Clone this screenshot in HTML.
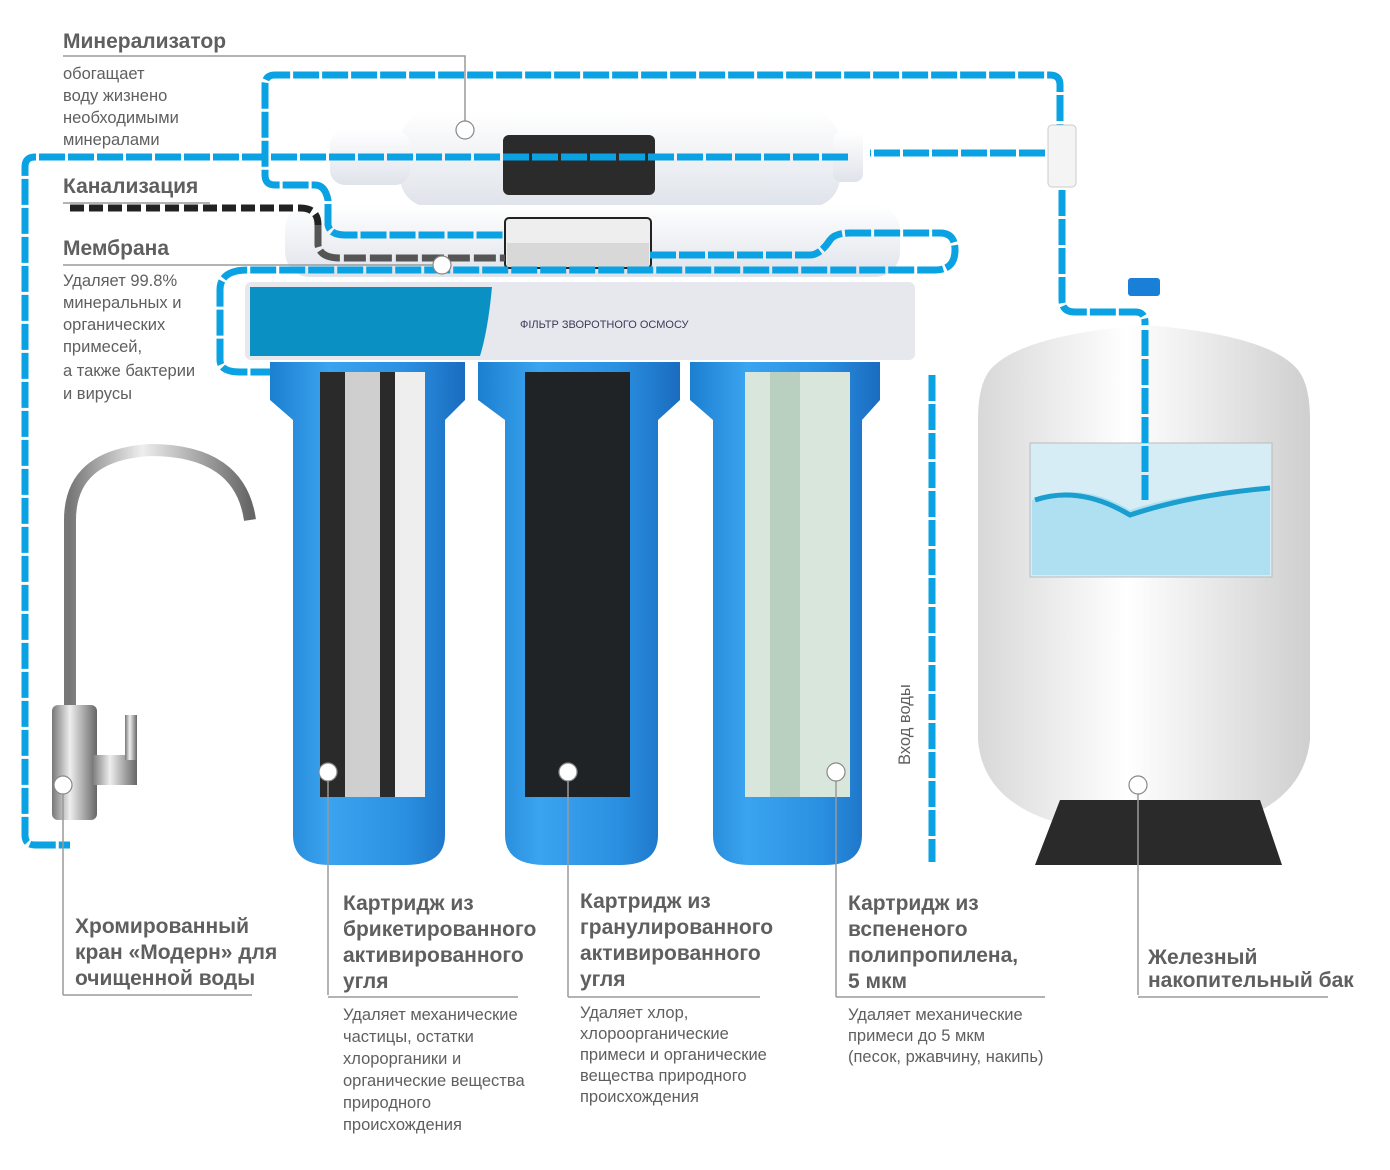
<!DOCTYPE html>
<html><head><meta charset="utf-8"><style>
body{margin:0;background:#fff}
svg{display:block}
text{font-family:"Liberation Sans",sans-serif}
.h{font-weight:bold;fill:#5f5f5f;font-size:21px}
.t{fill:#5f5f5f;font-size:16.5px}
.p{fill:none;stroke:#0aa2e2;stroke-width:7;stroke-dasharray:26 3}
.l{fill:none;stroke:#9a9a9a;stroke-width:1.5}
.dot{fill:#fff;stroke:#888;stroke-width:1.2}
</style></head><body>
<svg width="1390" height="1170" viewBox="0 0 1390 1170" xmlns="http://www.w3.org/2000/svg">
<defs>
<linearGradient id="bl" x1="0" x2="1"><stop offset="0" stop-color="#1c7fd0"/><stop offset=".3" stop-color="#3aa4f0"/><stop offset=".7" stop-color="#2a8fe0"/><stop offset="1" stop-color="#1a6cc0"/></linearGradient>
<linearGradient id="wh" x1="0" y1="0" x2="0" y2="1"><stop offset="0" stop-color="#fff"/><stop offset="1" stop-color="#dfe3ea"/></linearGradient>
<linearGradient id="tk" x1="0" x2="1"><stop offset="0" stop-color="#d8d8d8"/><stop offset=".45" stop-color="#fff"/><stop offset="1" stop-color="#cfcfcf"/></linearGradient>
<linearGradient id="fc" x1="0" x2="1"><stop offset="0" stop-color="#777"/><stop offset=".4" stop-color="#eee"/><stop offset="1" stop-color="#666"/></linearGradient>
</defs>
<rect x="400" y="112" width="440" height="95" rx="30" fill="url(#wh)"/>
<rect x="330" y="130" width="80" height="55" rx="15" fill="url(#wh)"/>
<rect x="833" y="132" width="30" height="50" rx="8" fill="url(#wh)"/>
<rect x="503" y="135" width="152" height="60" rx="6" fill="#2b2b2b"/>
<rect x="285" y="205" width="615" height="72" rx="25" fill="url(#wh)"/>
<rect x="505" y="218" width="146" height="50" rx="4" fill="#eee" stroke="#222" stroke-width="2"/>
<rect x="507" y="243" width="142" height="24" fill="#d8d8d8"/>
<path class="p" d="M1060 150 V85 Q1060 75 1050 75 H275 Q265 75 265 85 V175 Q265 185 275 185 H315 Q325 185 328 200 V225 Q330 235 345 235 H505"/>
<path class="p" d="M1045 153 H870 M848 157 H35 Q25 157 25 167 V835 Q25 845 35 845 H70"/>
<path class="p" d="M650 255 H810 Q820 255 830 240 Q835 233 850 233 H940 Q955 233 955 250 Q955 270 935 270 H248 Q220 270 220 290 V360 Q220 372 240 372 H300"/>
<path fill="none" stroke="#222" stroke-width="7" stroke-dasharray="14 5" d="M70 208 H300 Q318 208 318 225"/>
<path fill="none" stroke="#555" stroke-width="7" stroke-dasharray="22 4" d="M318 225 V245 Q320 258 340 258 H505"/>
<path class="p" d="M1062 190 V300 Q1062 312 1075 312 H1135 Q1145 312 1145 322 V500"/>
<path class="p" d="M932 375 V862"/>
<rect x="1048" y="125" width="28" height="62" rx="4" fill="#f4f4f4" stroke="#ccc"/>
<rect x="1128" y="278" width="32" height="18" rx="3" fill="#1a7fd6"/>
<rect x="245" y="282" width="670" height="78" rx="6" fill="#e6e8ee"/>
<path d="M250 287 H492 Q488 330 480 356 H250 Z" fill="#0a90c2"/>
<text x="520" y="328" font-size="11" fill="#3a3a5a">ФІЛЬТР ЗВОРОТНОГО ОСМОСУ</text>
<g>
<path d="M270 362 H465 V400 L445 420 V835 Q445 865 405 865 H330 Q293 865 293 835 V420 L270 400 Z" fill="url(#bl)"/>
<path d="M478 362 H680 V400 L658 420 V835 Q658 865 620 865 H545 Q505 865 505 835 V420 L478 400 Z" fill="url(#bl)"/>
<path d="M690 362 H880 V400 L862 420 V835 Q862 865 825 865 H750 Q713 865 713 835 V420 L690 400 Z" fill="url(#bl)"/>
<rect x="320" y="372" width="105" height="425" fill="#2a2a2a"/>
<rect x="345" y="372" width="35" height="425" fill="#cfcfcf"/>
<rect x="395" y="372" width="30" height="425" fill="#eee"/>
<rect x="525" y="372" width="105" height="425" fill="#1f2326"/>
<rect x="745" y="372" width="105" height="425" fill="#d9e6dc"/>
<rect x="770" y="372" width="30" height="425" fill="#b9cfc0"/>
</g>
<path d="M70 720 V520 Q70 455 150 450 Q240 450 250 520" fill="none" stroke="url(#fc)" stroke-width="12"/>
<rect x="52" y="705" width="45" height="115" rx="6" fill="url(#fc)"/>
<rect x="92" y="755" width="45" height="30" fill="url(#fc)"/>
<rect x="125" y="715" width="12" height="45" fill="url(#fc)"/>
<path d="M1145 325 Q1020 335 990 370 Q978 385 978 420 V740 Q985 830 1145 835 Q1300 830 1310 740 V420 Q1310 385 1298 370 Q1270 335 1145 325 Z" fill="url(#tk)"/>
<rect x="1030" y="443" width="242" height="134" fill="#d7edf6" stroke="#bbb"/>
<path d="M1032 500 Q1080 480 1130 510 Q1190 490 1270 490 V575 H1032 Z" fill="#aee0f2"/>
<path d="M1035 500 Q1080 485 1130 515 Q1190 495 1270 488" fill="none" stroke="#1a9ed0" stroke-width="5"/>
<path class="p" d="M1145 330 V500"/>
<path d="M1035 865 L1060 800 H1260 L1282 865 Z" fill="#2a2a2a"/>
<path class="l" d="M63 56 H465 V130 M63 203 H210 M63 265 H440 V265 M63 995 V790 M63 995 H252 M328 995 V775 M328 997 H518 M568 997 V775 M568 997 H760 M836 997 V775 M836 997 H1045 M1138 995 V787 M1138 997 H1328"/>
<circle class="dot" cx="465" cy="130" r="9"/>
<circle class="dot" cx="442" cy="265" r="9"/>
<circle class="dot" cx="63" cy="785" r="9"/>
<circle class="dot" cx="328" cy="772" r="9"/>
<circle class="dot" cx="568" cy="772" r="9"/>
<circle class="dot" cx="836" cy="772" r="9"/>
<circle class="dot" cx="1138" cy="785" r="9"/>
<text class="h" x="63" y="48">Минерализатор</text>
<text class="t" x="63" y="79">обогащает</text><text class="t" x="63" y="101">воду жизнено</text><text class="t" x="63" y="123">необходимыми</text><text class="t" x="63" y="145">минералами</text>
<text class="h" x="63" y="193">Канализация</text>
<text class="h" x="63" y="255">Мембрана</text>
<text class="t" x="63" y="286">Удаляет 99.8%</text><text class="t" x="63" y="308">минеральных и</text><text class="t" x="63" y="330">органических</text><text class="t" x="63" y="352">примесей,</text><text class="t" x="63" y="376">а также бактерии</text><text class="t" x="63" y="399">и вирусы</text>
<text class="t" transform="translate(910 765) rotate(-90)" font-size="19">Вход воды</text>
<text class="h" x="75" y="933">Хромированный</text><text class="h" x="75" y="959">кран «Модерн» для</text><text class="h" x="75" y="985">очищенной воды</text>
<text class="h" x="343" y="910">Картридж из</text><text class="h" x="343" y="936">брикетированного</text><text class="h" x="343" y="962">активированного</text><text class="h" x="343" y="988">угля</text>
<text class="t" x="343" y="1020">Удаляет механические</text><text class="t" x="343" y="1042">частицы, остатки</text><text class="t" x="343" y="1064">хлорорганики и</text><text class="t" x="343" y="1086">органические вещества</text><text class="t" x="343" y="1108">природного</text><text class="t" x="343" y="1130">происхождения</text>
<text class="h" x="580" y="908">Картридж из</text><text class="h" x="580" y="934">гранулированного</text><text class="h" x="580" y="960">активированного</text><text class="h" x="580" y="986">угля</text>
<text class="t" x="580" y="1018">Удаляет хлор,</text><text class="t" x="580" y="1039">хлороорганические</text><text class="t" x="580" y="1060">примеси и органические</text><text class="t" x="580" y="1081">вещества природного</text><text class="t" x="580" y="1102">происхождения</text>
<text class="h" x="848" y="910">Картридж из</text><text class="h" x="848" y="936">вспененого</text><text class="h" x="848" y="962">полипропилена,</text><text class="h" x="848" y="988">5 мкм</text>
<text class="t" x="848" y="1020">Удаляет механические</text><text class="t" x="848" y="1041">примеси до 5 мкм</text><text class="t" x="848" y="1062">(песок, ржавчину, накипь)</text>
<text class="h" x="1148" y="964">Железный</text><text class="h" x="1148" y="987">накопительный бак</text>
</svg>
</body></html>
